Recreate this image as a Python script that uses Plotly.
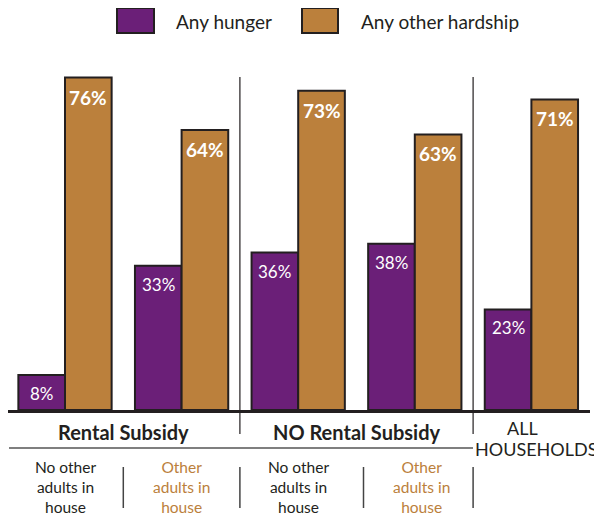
import plotly.graph_objects as go

# ---- data ----
groups = [0, 1, 2, 3, 4]
hunger = [8, 33, 36, 38, 23]
other_hardship = [76, 64, 73, 63, 71]
series_names = ["Any hunger", "Any other hardship"]
sub_labels = ["No other<br>adults in<br>house", "Other<br>adults in<br>house",
              "No other<br>adults in<br>house", "Other<br>adults in<br>house"]
group_labels = ["Rental Subsidy", "NO Rental Subsidy"]
all_label = ["ALL", "HOUSEHOLDS"]

PURPLE = "#6B1F78"
ORANGE = "#BB803C"
DARK = "#231F20"
FONT = "Lato"

OFF = 8  # page body margin
W, H = 602 - OFF, 518 - OFF
PLOT_L, PLOT_R = 8, 590      # page px
PLOT_T, PLOT_B = 60, 410     # page px
ML, MR = PLOT_L - OFF, W - (PLOT_R - OFF)
MT, MB = PLOT_T - OFF, H - (PLOT_B - OFF)
PW = PLOT_R - PLOT_L
PH = PLOT_B - PLOT_T
GROUP_PX = 116.6
X0 = -(65 - PLOT_L) / GROUP_PX
X1 = X0 + PW / GROUP_PX


def px_x(px):
    return (px - PLOT_L) / PW


def px_y(py):
    return (PLOT_B - py) / PH


fig = go.Figure()
fig.add_trace(go.Bar(x=groups, y=hunger, name=series_names[0],
                     marker=dict(color=PURPLE, line=dict(color=DARK, width=2))))
fig.add_trace(go.Bar(x=groups, y=other_hardship, name=series_names[1],
                     marker=dict(color=ORANGE, line=dict(color=DARK, width=2))))

ann = []
half = 0.8 / 4  # offset of each bar centre from group centre (data units)
for g, v in zip(groups, hunger):
    ann.append(dict(x=g - half, y=v, xref="x", yref="y", text=f"{v}%",
                    showarrow=False, yanchor="top", yshift=-6,
                    font=dict(family=FONT, size=17, color="white")))
for g, v in zip(groups, other_hardship):
    ann.append(dict(x=g + half, y=v, xref="x", yref="y", text=f"<b>{v}%</b>",
                    showarrow=False, yanchor="top", yshift=-6,
                    font=dict(family=FONT, size=19, color="white")))

# group labels
for i, lab in enumerate(group_labels):
    ann.append(dict(x=2 * i + 0.5, y=px_y(432), xref="x", yref="paper", text=f"<b>{lab}</b>",
                    showarrow=False, yanchor="middle",
                    font=dict(family=FONT, size=20, color=DARK)))
ann.append(dict(x=px_x(540), y=px_y(428), xref="paper", yref="paper", text=all_label[0],
                showarrow=False, yanchor="middle",
                font=dict(family=FONT, size=18, color=DARK)))
ann.append(dict(x=px_x(599), y=px_y(449), xref="paper", yref="paper", text=all_label[1],
                showarrow=False, xanchor="right", yanchor="middle",
                font=dict(family=FONT, size=18, color=DARK)))
for i, lab in enumerate(sub_labels):
    ann.append(dict(x=i + (0.06 if i == 3 else 0), y=px_y(487), xref="x", yref="paper", text=lab,
                    showarrow=False, yanchor="middle",
                    font=dict(family=FONT, size=15.5, color=DARK if i % 2 == 0 else ORANGE)))

# legend (custom)
shapes = []
for name, col, x0, x1, tx in [(series_names[0], PURPLE, 117, 154, 174),
                              (series_names[1], ORANGE, 302, 338, 359)]:
    shapes.append(dict(type="rect", xref="paper", yref="paper",
                       x0=px_x(x0), x1=px_x(x1), y0=px_y(33), y1=px_y(8),
                       fillcolor=col, line=dict(color=DARK, width=2)))
    ann.append(dict(x=px_x(tx), y=px_y(21), xref="paper", yref="paper", text=name,
                    showarrow=False, xanchor="left", yanchor="middle",
                    font=dict(family=FONT, size=19, color=DARK)))

# separators
for xs in [1.5, 3.5]:
    shapes.append(dict(type="line", xref="x", yref="paper", x0=xs, x1=xs,
                       y0=px_y(434), y1=px_y(77), line=dict(color=DARK, width=1.2)))
shapes.append(dict(type="line", xref="paper", yref="paper", x0=px_x(9), x1=px_x(473),
                   y0=px_y(448), y1=px_y(448), line=dict(color="#555555", width=1.5)))
for xs in [0.5, 1.5, 2.56, 3.5]:
    shapes.append(dict(type="line", xref="x", yref="paper", x0=xs, x1=xs,
                       y0=px_y(508), y1=px_y(467), line=dict(color="#444444", width=1.5)))

fig.update_layout(
    width=W, height=H,
    margin=dict(l=ML, r=MR, t=MT, b=MB, pad=0),
    barmode="group", bargap=0.2, bargroupgap=0,
    showlegend=False,
    plot_bgcolor="white", paper_bgcolor="white",
    annotations=ann, shapes=shapes,
    xaxis=dict(range=[X0, X1], showticklabels=False, showgrid=False, zeroline=False,
               showline=True, linecolor=DARK, linewidth=2.5, ticks=""),
    yaxis=dict(range=[0, 80], showticklabels=False, showgrid=False, zeroline=False,
               showline=False, ticks=""),
)

fig.write_html("out.html")
